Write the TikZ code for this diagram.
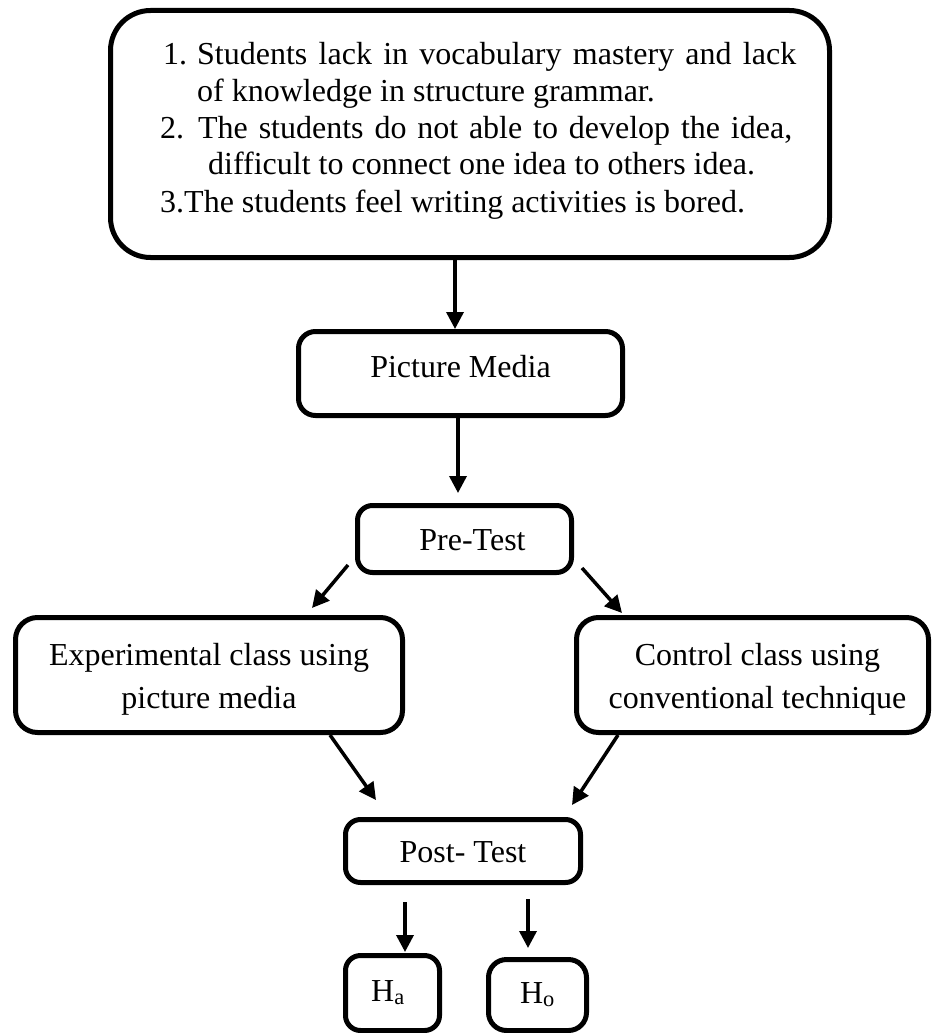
\documentclass[tikz,border=0pt]{standalone}
\usepackage{fontspec}
\setmainfont{Liberation Serif}
\usetikzlibrary{arrows.meta}
\begin{document}
\begin{tikzpicture}[x=1pt,y=-1pt,
  box/.style={draw, line width=5pt, rounded corners=#1, inner sep=0pt, align=center,
    font=\fontsize{32}{43}\selectfont},
  box/.default=15pt,
  oneline/.style={text height=22pt, text depth=#1},
  oneline/.default=0pt,
  twoline/.style={text height=73pt, text depth=7pt},
  arr/.style={line width=3.5pt, -{Triangle[length=17pt,width=17pt]}}]
\useasboundingbox (0,0) rectangle (933,1033);

\node[box=40pt, minimum width=719pt, minimum height=247pt] (problems) at (470,134) {};
\node[anchor=base west, inner sep=0pt, font=\fontsize{32}{37}\selectfont] (problemtext) at (160,64)
 {\begin{tabular}[t]{@{}l@{}}
  \hspace*{3pt}\makebox[34pt][l]{1.}\makebox[599pt][s]{Students lack in vocabulary mastery and lack}\\
  \hspace*{37pt}of knowledge in structure grammar.\\
  \makebox[38pt][l]{2.}\makebox[594pt][s]{The students do not able to develop the idea,}\\
  \hspace*{48pt}difficult to connect one idea to others idea.\\
  3.The students feel writing activities is bored.
  \end{tabular}};

\node[box=17pt, oneline=15pt, minimum width=324pt, minimum height=84pt] (pm) at (460.5,373.5) {Picture Media};
\node[box=15pt, oneline, minimum width=214pt, minimum height=67pt] (pre) at (464.5,539) {\hspace*{16pt}Pre-Test};
\node[box=22pt, twoline, minimum width=387pt, minimum height=115pt] (exp) at (209,675)
  {Experimental class using\\picture media};
\node[box=22pt, twoline, minimum width=352pt, minimum height=115pt] (ctrl) at (752.5,675)
  {\hspace*{10pt}Control class using\\\hspace*{10pt}conventional technique};
\node[box=15pt, oneline, minimum width=235pt, minimum height=63pt] (post) at (463,851) {Post- Test};
\node[box=15pt, oneline=6pt, minimum width=94pt, minimum height=75pt] (ha) at (392.5,993) {H\textsubscript{a}\hspace*{9pt}};
\node[box=18pt, oneline=6pt, minimum width=98pt, minimum height=71pt] (ho) at (537.5,995) {H\textsubscript{o}};

\draw[arr] ([xshift=-15pt]problems.south) -- ([xshift=-5.5pt]pm.north);
\draw[arr] ([xshift=-2.5pt]pm.south) -- ([xshift=-6.5pt,yshift=10pt]pre.north);
\draw[arr] ([xshift=-7pt,yshift=10pt]pre.south west) -- ([xshift=103pt,yshift=7pt]exp.north);
\draw[arr] ([xshift=8pt,yshift=7pt]pre.south east) -- ([xshift=-130.5pt,yshift=2pt]ctrl.north);
\draw[arr] ([xshift=121pt]exp.south) -- ([xshift=-87pt,yshift=17pt]post.north);
\draw[arr] ([xshift=-134.5pt]ctrl.south) -- ([xshift=109pt,yshift=12pt]post.north);
\draw[arr] ([xshift=-58pt,yshift=-17pt]post.south) -- ([xshift=12.5pt,yshift=1pt]ha.north);
\draw[arr] ([xshift=65pt,yshift=-14pt]post.south) -- ([xshift=-9.5pt,yshift=9pt]ho.north);
\end{tikzpicture}
\end{document}
